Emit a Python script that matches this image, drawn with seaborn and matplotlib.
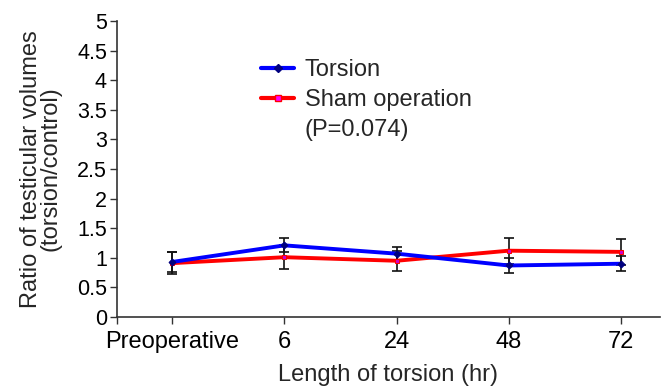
import matplotlib
matplotlib.use("Agg")
import matplotlib.pyplot as plt
from matplotlib.lines import Line2D
import seaborn as sns
import pandas as pd
import numpy as np

categories = ["Preoperative", "6", "24", "48", "72"]
torsion = [0.93, 1.21, 1.07, 0.87, 0.90]
torsion_err = [0.17, 0.12, 0.12, 0.13, 0.13]
sham = [0.91, 1.01, 0.95, 1.12, 1.10]
sham_err = [0.18, 0.20, 0.17, 0.22, 0.22]
yticks = [0, 0.5, 1, 1.5, 2, 2.5, 3, 3.5, 4, 4.5, 5]
ytick_labels = ["0", "0.5", "1", "1.5", "2", "2.5", "3", "3.5", "4", "4.5", "5"]

sns.set_theme(style="ticks")
plt.rcParams["font.family"] = ["Liberation Sans", "DejaVu Sans"]

W, H = 662, 388
fig = plt.figure(figsize=(W / 100, H / 100), dpi=100)
left, right, top, bottom = 116.7, 660, 21, 317
ax = fig.add_axes([left / W, 1 - bottom / H, (right - left) / W, (bottom - top) / H])

pos = np.arange(len(categories))
df_t = pd.DataFrame({"pos": pos, "ratio": torsion})
df_s = pd.DataFrame({"pos": pos, "ratio": sham})

ax.errorbar(pos, torsion, yerr=torsion_err, fmt="none", ecolor="#111111",
            elinewidth=1.2, capsize=3.5, capthick=1.2, zorder=1)
ax.errorbar(pos, sham, yerr=sham_err, fmt="none", ecolor="#111111",
            elinewidth=1.2, capsize=3.5, capthick=1.2, zorder=1)

sns.lineplot(data=df_t, x="pos", y="ratio", ax=ax, color="#0000ff", linewidth=2.8,
             marker="D", markersize=3.5, markerfacecolor="#000080",
             markeredgecolor="#000080", zorder=3)
sns.lineplot(data=df_s, x="pos", y="ratio", ax=ax, color="#ff0000", linewidth=2.8,
             marker="s", markersize=3.5, markerfacecolor="#cc00cc",
             markeredgecolor="#ff0000", zorder=2)

ax.set_xlim(-0.496, 4.35)
ax.set_ylim(0, 5)
ax.set_xticks(pos)
ax.set_xticklabels(categories, fontsize=17)
ax.set_xticks([-0.496], minor=True)
ax.set_yticks(yticks)
ax.set_yticklabels(ytick_labels, fontsize=15.5)
ax.tick_params(axis="both", which="both", direction="out", length=5, width=1,
               color="#333333", labelcolor="black")
ax.tick_params(axis="x", pad=5)
ax.tick_params(axis="y", pad=2)

sns.despine(ax=ax)
for s in ["left", "bottom"]:
    ax.spines[s].set_color("#333333")
    ax.spines[s].set_linewidth(1.2)

ax.set_xlabel("Length of torsion (hr)", fontsize=17, labelpad=8)
ax.set_ylabel("Ratio of testicular volumes\n(torsion/control)", fontsize=17,
              linespacing=0.85, labelpad=11)

handles = [
    Line2D([], [], color="#0000ff", linewidth=3, marker="D", markersize=4,
           markerfacecolor="#000080", markeredgecolor="#000080"),
    Line2D([], [], color="#ff0000", linewidth=3, marker="s", markersize=5,
           markerfacecolor="#ff00ff", markeredgecolor="#ff0000"),
    Line2D([], [], linestyle="none"),
]
labels = ["Torsion", "Sham operation", "(P=0.074)"]
fig.legend(handles, labels, loc="upper left",
           bbox_to_anchor=(261 / W, 1 - 59 / H), bbox_transform=fig.transFigure,
           frameon=False, fontsize=17, handlelength=1.4, handletextpad=0.45,
           labelspacing=0.33, borderpad=0, borderaxespad=0)

fig.savefig("out.png", dpi=100)
